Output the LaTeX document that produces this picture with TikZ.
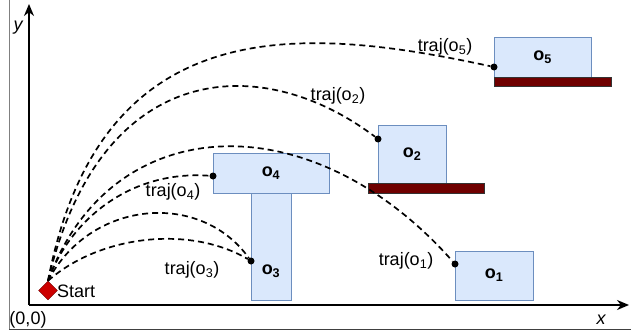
\documentclass[tikz,border=0pt]{standalone}
\usepackage{fontspec}
\setmainfont{Liberation Sans}
\usetikzlibrary{arrows.meta,shapes.geometric}
\definecolor{boxfill}{HTML}{DAE8FC}
\definecolor{boxline}{HTML}{6C8EBF}
\definecolor{barred}{HTML}{6F0000}
\definecolor{startred}{HTML}{CC0000}
\begin{document}
\begin{tikzpicture}[x=1pt, y=-1pt, font=\fontsize{18}{21}\selectfont,
    obj/.style = {draw=boxline, fill=boxfill, line width=1pt, inner sep=0pt},
    bar/.style = {draw=black!80, fill=barred, line width=0.8pt, inner sep=0pt},
    dot/.style = {circle, fill=black, inner sep=0pt, minimum size=7pt},
    traj/.style = {line width=1.7pt, dash pattern=on 6pt off 4pt},
    lbl/.style = {inner sep=0pt}]
        \useasboundingbox (0,0) rectangle (631,332);
        % frame and axes
        \draw[gray, line width=1pt] (9,0) -- (9,329);
        \draw[black!75, line width=1pt] (9,329) -- (631,329);
        \coordinate (origin) at (29,305);
        \coordinate (ytip) at (29,4);
        \coordinate (xtip) at (629,305);
        \draw[-{Stealth[length=12pt,width=10pt]}, line width=2pt] (origin) -- (ytip);
        \draw[-{Stealth[length=12pt,width=10pt]}, line width=2pt] (origin) -- (xtip);
        \node[lbl] (ylab) at (18,28) {\itshape y};
        \node[lbl] (xlab) at (601,320) {\itshape x};
        \node[lbl] (orig) at (28,320) {(0,0)};

        % objects
        \node[obj, minimum width=40pt, minimum height=107pt] (o3) at (271,246.5) {};
        \node[obj, minimum width=116pt, minimum height=40pt] (o4) at (271,173) {\textbf{o\textsubscript{4}}};
        \node[lbl] (o3lab) at (271,271) {\textbf{o\textsubscript{3}}};
        \node[obj, minimum width=68pt, minimum height=58pt] (o2) at (412,154) {\textbf{o\textsubscript{2}}};
        \node[bar, minimum width=116pt, minimum height=10pt] (bar2) at (426,188) {};
        \node[obj, minimum width=97pt, minimum height=40pt] (o5) at (542.5,57) {\textbf{o\textsubscript{5}}};
        \node[bar, minimum width=117pt, minimum height=9pt] (bar5) at (552.5,81.5) {};
        \node[obj, minimum width=78pt, minimum height=49pt] (o1) at (494,275.5) {\textbf{o\textsubscript{1}}};

        % start
        \node[diamond, draw=barred, fill=startred, inner sep=0pt, minimum size=19pt] (start) at (48,290.5) {};
        \node[lbl, anchor=west] (startlab) at (57,291) {Start};

        % contact points
        \node[dot] (d5) at (494,67) {};
        \node[dot] (d2) at (378,139) {};
        \node[dot] (d4) at (213,176) {};
        \node[dot] (d3) at (251,261) {};
        \node[dot] (d1) at (455,264) {};

        % trajectories
        \draw[traj] (start.north) .. controls (100,10) and (300,25) .. (d5);
        \draw[traj] (start.north) .. controls (100,60) and (260,50) .. (d2);
        \draw[traj] (start.north) .. controls (110,110) and (310,100) .. (d1);
        \draw[traj] (start.north) .. controls (70,220) and (130,170) .. (d4);
        \draw[traj] (start.north) .. controls (90,200) and (200,190) .. (d3);
        \draw[traj] (start.north) .. controls (100,235) and (190,225) .. (d3);

        \node[lbl] (t5) at (445,47) {traj(o\textsubscript{5})};
        \node[lbl] (t2) at (338,96) {traj(o\textsubscript{2})};
        \node[lbl] (t4) at (173,192) {traj(o\textsubscript{4})};
        \node[lbl] (t3) at (192,270) {traj(o\textsubscript{3})};
        \node[lbl] (t1) at (406,261) {traj(o\textsubscript{1})};
\end{tikzpicture}
\end{document}
